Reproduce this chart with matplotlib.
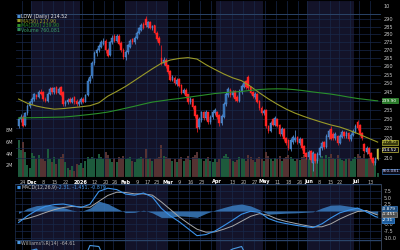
import matplotlib
matplotlib.use('Agg')
import matplotlib.pyplot as plt
import matplotlib.transforms as mtransforms
from matplotlib.ticker import FixedLocator, NullLocator, FixedFormatter
import numpy as np
import pandas as pd

# ---------------- data ----------------
holidays = ['2025-11-27', '2025-12-25', '2026-01-01', '2026-01-19', '2026-02-16',
            '2026-04-03', '2026-05-25', '2026-06-19', '2026-07-03']

opens = [226, 230, 231, 227, 233, 237, 239, 241, 243, 242,
         245, 245, 241, 240, 244, 247, 245, 247.5, 244.5, 248,
         245, 238, 239, 241, 239.5, 242, 240, 238, 239, 241,
         239.5, 243, 251, 254, 262, 268, 270, 272, 274, 276,
         270, 267, 275, 279, 276, 279, 274.5, 270, 265.5, 268.5,
         272, 277, 275, 278, 281, 283, 287, 290.5, 285, 288,
         284, 286, 281, 278, 265, 262, 264, 260.5, 257, 252,
         253, 249.5, 252.5, 249, 244.5, 246, 243.5, 239, 241, 237,
         232, 225.5, 229.5, 234, 230.5, 233.5, 228.5, 231, 233, 234,
         232, 228, 231, 238, 243, 246, 243, 245.5, 242, 240,
         245, 248, 251, 253.5, 248, 245, 242, 244, 240, 236,
         233, 235, 226.5, 223.5, 230, 227, 230, 227, 222, 224.5,
         220, 219, 214.5, 218, 219, 220.5, 217.5, 219.5, 216, 212.5,
         210.5, 213.5, 207.5, 212, 208.5, 211.5, 215, 218, 215.5, 220.5,
         224.5, 222, 220, 221, 217.5, 220.5, 223, 221, 222.5, 219.5,
         221.5, 223, 228.5, 227, 222.5, 217, 213, 215, 212.5, 210,
         207.5, 209.5]
closes = [230, 231, 226.5, 233, 237, 239, 241, 243.5, 242, 245,
          244, 241, 240, 244, 246.5, 245, 247, 244.5, 246.5, 243,
          238, 239.5, 240.5, 239.5, 241, 239, 238, 239.5, 241, 239.5,
          243, 251, 253.5, 262, 268, 270, 272.5, 275, 276, 270,
          266.5, 275, 278, 276, 279, 274, 270, 265.5, 269, 273,
          276, 275, 278, 281, 284, 286, 284.5, 286, 288, 284.5,
          285.5, 281, 277, 274.5, 262, 264, 260, 256.5, 252, 253.5,
          250, 252, 248.5, 244.5, 246, 242.5, 239, 241, 236.5, 231.5,
          225, 230, 233.5, 230.5, 234, 228.5, 231, 234, 235, 231,
          228, 231.5, 238, 244, 246.5, 243, 245, 241, 240, 245.5,
          248.5, 250, 247.5, 247, 244.5, 242.5, 244, 239.5, 236, 233,
          234.5, 226, 223.5, 228, 227, 230.5, 226.5, 222, 224.5, 219.5,
          217.5, 215, 219, 220.5, 220, 218, 219.5, 215, 212, 210.5,
          213, 209, 212.5, 208.5, 212, 215, 217.5, 215.5, 221, 223.5,
          219.5, 220, 222, 217.5, 221, 223, 221, 222.5, 219.5, 221.5,
          223.5, 226.5, 225, 222, 220, 213.5, 215, 212, 209.5, 207.5,
          209.5, 214.52]
highs = [231, 232.5, 232, 234, 238, 240, 242, 244.5, 244, 246,
         246.5, 245.5, 242, 245, 247.5, 248, 248, 248.5, 247.5, 248.5,
         245.5, 240.5, 241.5, 242, 242, 242.5, 241, 240.5, 242, 242,
         244, 253, 255, 263, 269.5, 271.5, 274, 276.5, 277.5, 277,
         271, 276, 279.5, 280, 280.5, 280, 275.5, 271, 270, 274,
         277, 278, 279, 282, 285, 287.5, 288, 292.5, 289, 289,
         286.5, 286.5, 282, 279, 273, 265.5, 265, 261, 257.5, 254.5,
         254, 253, 253, 249.5, 247, 247, 244, 242, 241.5, 237.5,
         232.5, 231, 234.5, 234.5, 235, 234, 232, 235, 236, 234.5,
         232.5, 232.5, 239, 245, 247.5, 247, 246, 246, 243, 246.5,
         249.5, 251, 252, 254.5, 248.5, 245.5, 245, 244.5, 240.5, 237,
         235.5, 235.5, 227, 229, 230.5, 231.5, 230.5, 227.5, 225.5, 225,
         220.5, 219.5, 220, 221.5, 224, 221, 220.5, 220, 216.5, 213,
         214, 214, 213.5, 212.5, 213, 216, 218.5, 218.5, 222, 224.5,
         226, 223, 223, 221.5, 222, 224, 223.5, 223.5, 223, 222.5,
         224.5, 227.5, 229.5, 227.5, 223, 217.5, 216, 215.5, 213, 210.5,
         210.5, 215]
lows = [225, 228.5, 225.5, 226, 232, 236, 238, 240, 241, 241.5,
        243, 240, 239, 239.5, 243, 244, 244, 243.5, 243.5, 242.5,
        237, 237, 238, 238.5, 238.5, 238, 237, 237, 238, 238.5,
        239, 242.5, 250, 253, 261, 266.5, 269, 271, 273, 268,
        265.5, 266, 274, 275, 275, 273, 269, 264.5, 264, 267.5,
        271, 274, 274, 277, 280, 282, 283.5, 285, 284, 283.5,
        283, 280, 276, 273.5, 261, 261, 259, 255.5, 251, 251,
        249, 248.5, 247.5, 243.5, 243.5, 241.5, 238, 238, 235.5, 230.5,
        223, 224.5, 228.5, 229.5, 229.5, 227.5, 227.5, 230, 232, 230,
        226, 227, 230.5, 237, 242, 242, 242, 240, 239, 239.5,
        244, 247, 246.5, 246, 243.5, 241.5, 241, 238.5, 235, 232,
        232, 225, 222.5, 223, 226, 226, 225.5, 221, 221, 218.5,
        216.5, 214, 213.5, 217, 218, 217, 216.5, 214, 211, 209.5,
        209.5, 208, 203.5, 207.5, 207.5, 210.5, 214, 214.5, 215, 219.5,
        219, 219, 219, 216.5, 217, 220, 220, 220, 218.5, 218.5,
        221, 222.5, 224, 221, 219, 212.5, 212, 211, 208.5, 206.5,
        206.5, 209]
volume_m = [6.3, 4.6, 6.0, 4.3, 2.0, 1.5, 4.1, 3.6, 3.0, 3.8,
            3.3, 3.0, 2.8, 4.8, 3.0, 2.5, 3.4, 2.2, 3.0, 3.5,
            4.0, 2.6, 1.5, 1.2, 1.8, 1.0, 2.2, 2.0, 2.4, 1.6,
            2.8, 3.4, 3.0, 3.5, 3.2, 3.0, 4.0, 3.4, 3.0, 4.2,
            3.8, 3.0, 2.6, 3.2, 2.5, 3.4, 3.2, 3.6, 3.0, 3.2,
            3.4, 2.8, 2.6, 3.0, 3.2, 3.5, 3.2, 4.8, 3.0, 3.3,
            2.8, 3.0, 3.2, 3.5, 5.5, 3.6, 3.5, 3.3, 3.2, 2.8,
            3.0, 2.6, 3.0, 3.4, 2.8, 3.2, 3.6, 2.9, 3.4, 3.8,
            4.2, 3.3, 3.0, 2.8, 3.1, 3.4, 2.7, 2.5, 3.0, 2.6,
            3.0, 3.2, 3.6, 4.0, 3.4, 3.0, 2.8, 2.6, 2.9, 3.5,
            3.2, 3.0, 2.8, 3.8, 3.4, 2.9, 2.6, 3.2, 3.5, 3.0,
            2.7, 4.2, 3.6, 3.0, 2.8, 3.2, 3.0, 3.6, 2.8, 3.2,
            3.4, 3.8, 3.5, 3.0, 2.8, 3.1, 2.9, 3.5, 3.8, 3.2,
            3.0, 3.4, 4.2, 3.4, 3.0, 3.3, 3.6, 3.0, 3.8, 3.4,
            4.0, 3.2, 3.0, 3.8, 3.2, 2.9, 2.7, 3.0, 3.3, 2.8,
            3.0, 3.4, 4.0, 3.6, 3.2, 4.0, 3.0, 3.2, 3.5, 3.3,
            2.8, 0.76]

# indicator samples (every 4th session + last)
sample_idx = list(range(0, 161, 4)) + [161]
ma50 = [240.9, 238.5, 237.0, 236.0, 235.3, 235.6, 236.1, 236.6, 237.2, 238.8,
        242.5, 245.2, 248.1, 251.5, 255.0, 258.5, 261.8, 263.8, 264.8, 265.3,
        264.4, 261.0, 258.1, 255.4, 253.1, 251.4, 248.1, 244.4, 241.0, 238.0,
        235.3, 233.1, 231.3, 229.7, 228.2, 226.8, 225.7, 224.1, 222.3, 220.3,
        218.4, 217.9]
ma200 = [230.5, 230.6, 230.7, 230.8, 230.9, 231.0, 231.4, 231.9, 232.4, 233.0,
         233.7, 234.7, 235.8, 236.9, 238.1, 239.2, 239.9, 240.6, 241.2, 241.9,
         242.6, 243.3, 244.0, 244.5, 244.9, 245.2, 245.8, 246.3, 246.6, 246.7,
         246.6, 246.2, 245.6, 244.9, 244.3, 243.7, 242.9, 242.0, 241.2, 240.6,
         240.0, 239.9]
macd = [-4.3, -1.8, 0.2, 1.7, 2.4, 2.6, 2.0, 1.3, 2.5, 7.3,
        8.5, 8.0, 6.3, 5.9, 6.7, 5.2, 1.0, -1.8, -4.0, -6.6,
        -9.2, -8.8, -7.5, -5.5, -3.4, -1.2, -0.1, -0.5, -2.8, -4.0,
        -4.7, -5.3, -5.8, -6.2, -4.8, -2.6, -0.7, 0.3, 1.1, -0.3,
        -2.1, -2.31]
signal = [-3.4, -2.8, -1.8, -0.6, 0.5, 1.3, 1.7, 1.5, 1.4, 3.6,
          5.8, 7.0, 6.9, 6.4, 6.4, 5.9, 3.4, 0.6, -2.2, -4.6,
          -6.8, -7.9, -7.8, -6.8, -5.6, -3.8, -2.0, -1.0, -1.6, -3.0,
          -3.9, -4.6, -5.3, -5.9, -5.9, -4.8, -3.0, -1.5, -0.2, 0.2,
          -1.2, -1.451]
williams = [-60, -15, -10, -35, -20, -55, -50, -45, -3, -5,
            -45, -15, -55, -15, -15, -25, -85, -95, -80, -90,
            -95, -40, -25, -20, -10, -5, -40, -70, -95, -60,
            -85, -50, -85, -70, -30, -20, -45, -50, -15, -70,
            -90, -64.61]

tick_dates = ['2025-11-24', '2025-12-01', '2025-12-08', '2025-12-15', '2025-12-22',
              '2026-01-02', '2026-01-12', '2026-01-20', '2026-01-26', '2026-02-02',
              '2026-02-09', '2026-02-17', '2026-02-23', '2026-03-02', '2026-03-09',
              '2026-03-16', '2026-03-23', '2026-04-01', '2026-04-13', '2026-04-20',
              '2026-04-27', '2026-05-01', '2026-05-11', '2026-05-18', '2026-05-26',
              '2026-06-01', '2026-06-08', '2026-06-15', '2026-06-22', '2026-07-01',
              '2026-07-13']
tick_labels = ['24', 'Dec', '8', '15', '22', '2026', '12', '20', '26', 'Feb',
               '9', '17', '23', 'Mar', '9', '16', '23', 'Apr', '13', '20',
               '27', 'May', '11', '18', '26', 'Jun', '8', '15', '22', 'Jul', '13']
bold_labels = {'Dec', '2026', 'Feb', 'Mar', 'Apr', 'May', 'Jun', 'Jul'}
price_grid = list(range(210, 295, 5))
price_ticks = [210, 220, 225, 230, 235, 245, 250, 255, 260, 265, 270, 275, 280, 285, 290]
shaded_months = ['2025-12', '2026-02', '2026-04', '2026-06']
macd_grid = [7.5, 5.0, 2.5, 0.0, -2.5, -5.0, -7.5, -10.0]
macd_ticks = [7.5, 5.0, 2.5, -5.0, -7.5, -10.0]

# ---------------- setup ----------------
dates = pd.bdate_range('2025-11-20', '2026-07-16', freq='C', holidays=holidays)
n = len(closes)
for arr in (opens, highs, lows, volume_m):
    assert len(arr) == n
assert len(dates) == n, len(dates)
x = np.arange(n)
o = np.array(opens, float); c = np.array(closes, float)
h = np.array(highs, float); l = np.array(lows, float)
vol = np.array(volume_m) * 1e6
si = np.array(sample_idx)
hist = np.array(macd) - np.array(signal)

W, H = 400, 250
def rect(x0, y0, x1, y1):
    return [x0 / W, 1 - y1 / H, (x1 - x0) / W, (y1 - y0) / H]

BG = '#000000'
BAND = '#131329'
GRID = '#18284a'
SEP = '#2a4468'
UP_F = '#2f6cb0'
UP_E = '#5f9ee6'
DN = '#ff2424'
LAST = '#c8c040'
VUP = '#1d5a3c'
VDN = '#553232'
TXT = '#c8c8c8'
MA50C = '#9a9a28'
MA200C = '#2a8f2a'
FS = 3.6

fig = plt.figure(figsize=(4, 2.5), dpi=100, facecolor=BG)
axv = fig.add_axes(rect(15, 0, 381, 177))
axv.set_facecolor(BG)
ax = fig.add_axes(rect(15, 0, 381, 177), sharex=axv)
ax.patch.set_alpha(0)
axm = fig.add_axes(rect(15, 184, 381, 240), sharex=axv)
axm.set_facecolor(BG)
axw = fig.add_axes(rect(15, 240, 381, 250), sharex=axv)
axw.set_facecolor(BG)

axv.set_xlim(-1.6, 162.5)

months = dates.strftime('%Y-%m')
week_starts = [i for i in range(1, n) if dates[i].weekday() < dates[i - 1].weekday()]
for a in (axv, axm, axw):
    for m in shaded_months:
        idx = np.where(months == m)[0]
        a.axvspan(idx[0] - 0.5, idx[-1] + 0.5, color=BAND, lw=0, zorder=0)
    for w in week_starts:
        a.axvline(w - 0.5, color=GRID, lw=0.5, zorder=0.5)
    for s in a.spines.values():
        s.set_visible(False)
    a.spines['right'].set_visible(True)
    a.spines['right'].set_color('#39465e')
    a.spines['right'].set_linewidth(0.6)
    a.spines['left'].set_visible(True)
    a.spines['left'].set_color('#1e2e50')
    a.spines['left'].set_linewidth(0.5)

# ---------------- volume ----------------
vcol = np.where(c >= o, VUP, VDN)
axv.bar(x, vol, width=0.9, color=vcol, lw=0, zorder=1)
axv.set_ylim(0, 30.26e6)
axv.set_yticks([2e6, 4e6, 6e6, 8e6])
axv.set_yticklabels(['2M', '4M', '6M', '8M'])
axv.tick_params(axis='y', length=0, labelsize=FS, colors=TXT, pad=1.5)
axv.tick_params(axis='x', length=0, labelbottom=False)

# ---------------- price ----------------
ax.set_yscale('log')
ax.set_ylim(200.9, 303.4)
for p in price_grid:
    ax.axhline(p, color=GRID, lw=0.5, zorder=0.5)
ax.axhline(293.6, color=SEP, lw=0.7, zorder=1)

up = c >= o
face = np.where(up, UP_F, DN).astype(object)
edge = np.where(up, UP_E, DN).astype(object)
wick = np.where(up, UP_E, DN).astype(object)
face[-1] = LAST; edge[-1] = LAST; wick[-1] = LAST
ax.vlines(x, l, h, colors=list(wick), lw=0.5, zorder=3)
ax.bar(x, np.maximum(np.abs(c - o), 0.3), bottom=np.minimum(o, c), width=0.72,
       color=list(face), edgecolor=list(edge), lw=0.3, zorder=4)
ax.plot(si, ma50, color=MA50C, lw=0.8, zorder=5)
ax.plot(si, ma200, color=MA200C, lw=0.8, zorder=5)

ax.yaxis.tick_right()
ax.yaxis.set_major_locator(FixedLocator(price_ticks))
ax.yaxis.set_major_formatter(FixedFormatter([str(p) for p in price_ticks]))
ax.yaxis.set_minor_locator(NullLocator())
ax.tick_params(axis='y', which='both', length=0, labelsize=FS, colors=TXT, pad=2)

tick_pos = [dates.get_loc(pd.Timestamp(d)) for d in tick_dates]
ax.set_xticks(tick_pos)
ax.set_xticklabels(tick_labels)
ax.tick_params(axis='x', length=0, labelsize=FS, pad=1.8)
for t in ax.get_xticklabels():
    if t.get_text() in bold_labels:
        t.set_color('white'); t.set_fontweight('bold')
    else:
        t.set_color('#b8b8b8')
axm.tick_params(axis='x', length=0, labelbottom=False)
axw.tick_params(axis='x', length=0, labelbottom=False)

def tag(a, tr, y, s, fc, ec, tc):
    a.text(1.003, y, s, transform=tr, fontsize=3.2, color=tc, va='center', ha='left',
           clip_on=False, zorder=10,
           bbox=dict(boxstyle='square,pad=0.12', fc=fc, ec=ec, lw=0.5))

trp = mtransforms.blended_transform_factory(ax.transAxes, ax.transData)
tag(ax, trp, ma200[-1], '239.90', '#2a7a2a', '#3a9a3a', 'white')
tag(ax, trp, ma50[-1], '217.90', '#3a3a10', '#b0b030', '#e0e060')
tag(ax, trp, closes[-1] - 0.5, '214.52', '#0c0c18', '#c8c040', 'white')
trv = mtransforms.blended_transform_factory(axv.transAxes, axv.transData)
tag(axv, trv, 1.0e6, '760,081', '#0c0c18', '#3a78c0', '#d0d0ff')

fig.text(383 / W, 1 - 6 / H, '10', fontsize=FS, color=TXT, va='center', ha='left')

# legend
leg = [('LOW (Daily) 214.52', '#e8e8e8', '#4a8fd8', 16.5),
       ('MA(50) 217.90', MA50C, MA50C, 21),
       ('MA(200) 239.90', MA200C, MA200C, 25.5),
       ('Volume 760,081', '#3a9a6a', '#2e8a5a', 30)]
for s, tc, ic, yy in leg:
    fig.text(17 / W, 1 - yy / H, '\u25a0', fontsize=3, color=ic, va='center', ha='left')
    fig.text(21 / W, 1 - yy / H, s, fontsize=3.4, color=tc, va='center', ha='left')

# ---------------- MACD ----------------
axm.set_ylim(-10.82, 10.07)
for v in macd_grid:
    axm.axhline(v, color=GRID, lw=0.5, zorder=0.5)
axm.axhline(10.07, color=SEP, lw=1.0, zorder=1)
axm.fill_between(si, hist, 0, color='#3a7cc0', alpha=0.85, lw=0, zorder=2)
axm.plot(si, signal, color='#a8a8a8', lw=0.7, zorder=3)
axm.plot(si, macd, color='#3a92ea', lw=0.8, zorder=4)
axm.yaxis.tick_right()
axm.set_yticks(macd_ticks)
axm.set_yticklabels(['%.1f' % v for v in macd_ticks])
axm.tick_params(axis='y', length=0, labelsize=FS, colors=TXT, pad=2)
trm = mtransforms.blended_transform_factory(axm.transAxes, axm.transData)
tag(axm, trm, 0.9, '-0.879', '#1c4a7a', '#3a7cc0', 'white')
tag(axm, trm, -1.3, '-1.451', '#505050', '#909090', 'white')
tag(axm, trm, -3.5, '-2.31', '#1c5a9a', '#3a92ea', 'white')
fig.text(17 / W, 1 - 187.5 / H, '\u25a0', fontsize=3, color='#3a92ea', va='center')
fig.text(21 / W, 1 - 187.5 / H, 'MACD(12,26,9)', fontsize=3.4, color='#c0c0c0', va='center')
fig.text(57 / W, 1 - 187.5 / H, '-2.31, -1.451, -0.879', fontsize=3.4, color='#4a9ae8', va='center')

# ---------------- Williams %R ----------------
axw.set_ylim(-12, 8)
axw.axhline(8, color=SEP, lw=1.0, zorder=1)
axw.plot(si, williams, color='#4a98e0', lw=0.8, zorder=3)
axw.set_yticks([])
fig.text(17 / W, 1 - 243 / H, '\u25a0', fontsize=3, color='#4a98e0', va='center')
fig.text(21 / W, 1 - 243 / H, 'Williams%R(14) -64.61', fontsize=3.4, color='#b0b0b0', va='center')

fig.savefig('out.png', dpi=100, facecolor=BG)
